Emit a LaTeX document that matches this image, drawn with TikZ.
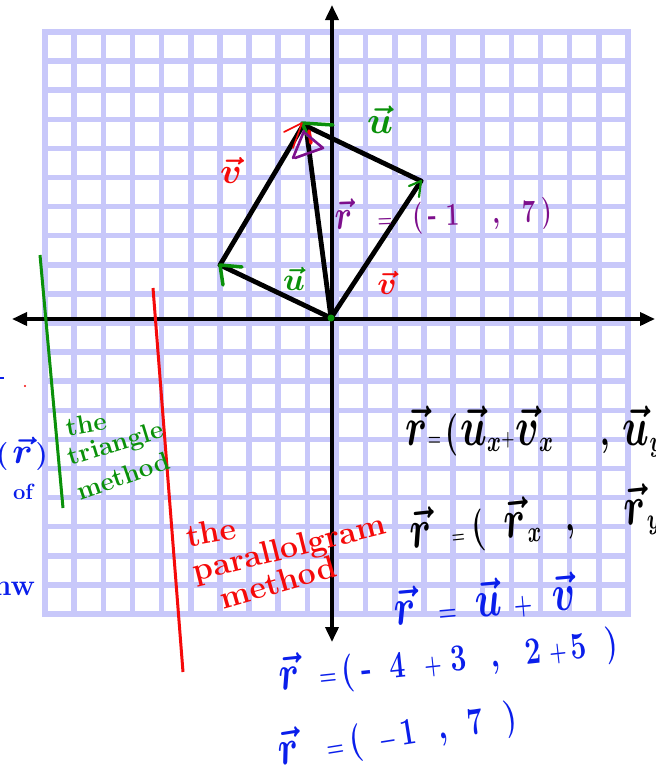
\RequirePackage{fix-cm}
\documentclass[tikz,border=0pt]{standalone}
\usepackage{graphicx}
\usetikzlibrary{arrows.meta}
\definecolor{gridc}{RGB}{200,200,250}
\definecolor{hgreen}{RGB}{10,145,10}
\definecolor{hred}{RGB}{245,10,10}
\definecolor{hpurple}{RGB}{125,15,140}
\definecolor{hblue}{RGB}{10,30,235}
\newcommand\hwfont[1]{\fontsize{#1}{#1}\selectfont\bfseries\boldmath}
\newcommand\sq[1]{\scalebox{0.75}[1]{#1}}
\newcommand\sqb[1]{\scalebox{0.72}[1]{#1}}
\newcommand\hl[1]{\scalebox{1.3}{$#1$}}
\tikzset{
  gridline/.style={draw=gridc, line width=5.5pt, line cap=rect},
  axisline/.style={draw=black, line width=3.6pt, {Triangle[length=15pt,width=13pt]}-{Triangle[length=15pt,width=13pt]}},
  vecline/.style={draw=black, line width=4.8pt, line cap=round},
  gmark/.style={draw=hgreen, line width=3.5pt, line cap=round, line join=round},
  rmark/.style={draw=hred, line width=1.6pt, line cap=round, line join=round},
  pmark/.style={draw=hpurple, line width=2.6pt, line cap=round, line join=round},
  lbl/.style={inner sep=0pt, outer sep=0pt},
  eqn/.style={inner sep=0pt, outer sep=0pt, anchor=base west},
  gtext/.style={lbl, text=hgreen, font=\hwfont{26}},
  rtext/.style={lbl, text=hred, font=\hwfont{32}},
}
\begin{document}
\begin{tikzpicture}[x=1pt,y=-1pt]
\useasboundingbox (0,0) rectangle (656,774);
\clip (0,0) rectangle (656,774);
\fill[white] (0,0) rectangle (656,774);
% grid paper
\foreach \i in {0,...,20} {
  \draw[gridline] ({45+29.15*\i},32) -- ({45+29.15*\i},614);
  \draw[gridline] (45,{32+29.1*\i}) -- (628,{32+29.1*\i});
}
% axes
\coordinate (xl) at (12,319);
\coordinate (xr) at (655,319);
\coordinate (yt) at (332,5);
\coordinate (yb) at (332,642);
\draw[axisline] (xl) -- (xr);
\draw[axisline] (yt) -- (yb);
% vectors
\coordinate (O) at (331,318);
\coordinate (U) at (220,265);
\coordinate (V) at (421,181);
\coordinate (R) at (304,125);
\coordinate (Ra) at (302,127);
\coordinate (Rb) at (306,127);
\draw[vecline] (O) -- (U);
\draw[vecline] (U) -- (Ra);
\draw[vecline] (O) -- (V);
\draw[vecline] (V) -- (R);
\draw[vecline] (O) -- (Rb);
% hand drawn arrow heads
\coordinate (ua) at (242,267);
\coordinate (ub) at (223,285);
\draw[gmark] (ua) -- (U) -- (ub);
\coordinate (va) at (409,186);
\coordinate (vb) at (419,197);
\draw[gmark, line width=2.2pt] (va) -- (V) -- (vb);
\coordinate (Rg) at (302,123);
\coordinate (ga) at (333,125);
\coordinate (gb) at (308,136);
\draw[gmark] (ga) -- (Rg) -- (gb);
\coordinate (ra) at (284,132);
\coordinate (rb) at (293,148);
\draw[rmark] (ra) -- (Rg) -- (rb);
\coordinate (rc) at (309,131);
\coordinate (rd) at (311,143);
\draw[rmark, line width=3.5pt] (rc) -- (rd);
\coordinate (pa) at (304,131);
\coordinate (pb) at (293,158);
\coordinate (pc) at (305,133);
\coordinate (pd) at (323,148);
\coordinate (pe) at (295,158);
\draw[pmark] (pa) -- (pb);
\draw[pmark] (pc) -- (pd) -- (pe);
\fill[hgreen] (O) circle[radius=3.5pt];
% vector labels
\node[lbl, text=hred, font=\hwfont{36}] (lv1) at (231,170) {$\vec v$};
\node[lbl, text=hgreen, font=\hwfont{38}] (lu1) at (380,120) {$\vec u$};
\node[lbl, text=hgreen, font=\hwfont{32}] (lu2) at (294,279) {$\vec u$};
\node[lbl, text=hred, font=\hwfont{32}] (lv2) at (387,283) {$\vec v$};
% purple result
\node[eqn, text=hpurple, font=\hwfont{32}, rotate=2] (req) at (335,229)
  {\sq{${\hl{\vec r}}\hspace{34pt}{\scriptstyle =}\hspace{26.7pt}{(}\hspace{6.7pt}\mbox{-}\hspace{12pt}{1}\hspace{44pt}{,}\hspace{29.3pt}{7}\hspace{8pt}{)}$}};
% side lines
\coordinate (g1) at (40,255);
\coordinate (g2) at (63,508);
\draw[draw=hgreen, line width=3pt] (g1) -- (g2);
\coordinate (r1) at (153,288);
\coordinate (r2) at (183,672);
\draw[draw=hred, line width=3pt] (r1) -- (r2);
% method labels
\node[gtext, rotate=10] (t1) at (86,424) {the};
\node[gtext, rotate=17] (t2) at (116,445) {triangle};
\node[gtext, rotate=19] (t3) at (123,476) {method};
\node[rtext, rotate=10] (p1) at (211,532) {the};
\node[rtext, rotate=14] (p2) at (290,550) {parallolgram};
\node[rtext, rotate=16] (p3) at (278,582) {method};
% black equations
\node[eqn, font=\hwfont{42}] (e1) at (405,445)
  {\sqb{${\hl{\vec r}}\hspace{1pt}{\scriptscriptstyle =}\hspace{5.5pt}{(}\hspace{3pt}{\hl{\vec u}}_x{\scriptscriptstyle +}\hspace{1pt}{\hl{\vec v}}_x\hspace{65pt}{,}\hspace{18pt}{\hl{\vec u}}_y$}};
\node[eqn, font=\hwfont{42}, rotate=6] (e2) at (411,548)
  {\sqb{${\hl{\vec r}}\hspace{27pt}{\scriptscriptstyle =}\hspace{10pt}{(}\hspace{28pt}{\hl{\vec r}}_x\hspace{33pt}{,}\hspace{70pt}{\hl{\vec r}}_y$}};
% blue equations
\node[eqn, text=hblue, font=\hwfont{40}, rotate=5] (b1) at (395,625)
  {\sq{${\hl{\vec r}}\hspace{30pt}{\scriptstyle =}\hspace{25pt}{\hl{\vec u}}\hspace{16pt}{\scriptstyle +}\hspace{27pt}{\hl{\vec v}}$}};
\node[eqn, text=hblue, font=\hwfont{38}, rotate=6] (b2) at (280,690)
  {\sq{${\hl{\vec r}}\hspace{26pt}{\scriptstyle =}\hspace{6.7pt}{(}\hspace{10.7pt}\mbox{-}\hspace{22.7pt}{4}\hspace{25.3pt}{\scriptstyle +}\hspace{12pt}{3}\hspace{32pt}{,}\hspace{34.7pt}{2}\hspace{10.7pt}{\scriptstyle +}\hspace{5.3pt}{5}\hspace{25.3pt}{)}$}};
\node[eqn, text=hblue, font=\hwfont{38}, rotate=9] (b3) at (280,765)
  {\sq{${\hl{\vec r}}\hspace{37pt}{\scriptstyle =}\hspace{8pt}{(}\hspace{22.7pt}{\scriptstyle -}\hspace{5.3pt}{1}\hspace{29.3pt}{,}\hspace{28pt}{7}\hspace{28pt}{)}$}};
% fragments at the left edge
\coordinate (bd1) at (0,378);
\coordinate (bd2) at (4,378);
\draw[draw=hblue, line width=2pt] (bd1) -- (bd2);
\fill[hred] (25,386) circle[radius=1.2pt];
\node[lbl, anchor=base east, text=hblue, font=\hwfont{28}] (f1) at (48,463) {$(\hspace{4pt}\hl{\vec r}\hspace{3pt})$};
\node[lbl, text=hblue, font=\hwfont{22}] (f2) at (23,492) {of};
\node[lbl, anchor=base east, text=hblue, font=\hwfont{30}] (f3) at (35,595) {nw};
\end{tikzpicture}
\end{document}
